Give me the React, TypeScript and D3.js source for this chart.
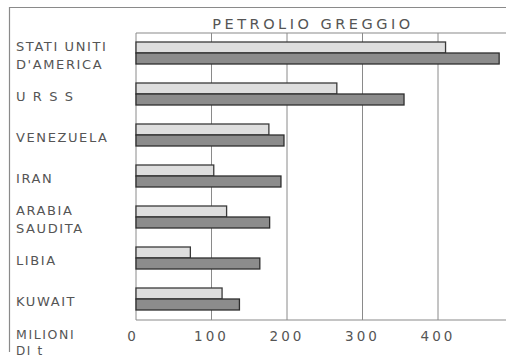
import * as d3 from 'd3';

const countries = [
  ['STATI UNITI', "D'AMERICA"],
  ['U R S S'],
  ['VENEZUELA'],
  ['IRAN'],
  ['ARABIA', 'SAUDITA'],
  ['LIBIA'],
  ['KUWAIT'],
];
const lightValues = [410, 266, 176, 103, 120, 72, 114];
const darkValues = [481, 355, 196, 192, 177, 164, 137];
const ticks = [0, 100, 200, 300, 400];

export default function App() {
  const width = 506;
  const height = 357;
  const plot = { left: 136, right: 506, top: 33, bottom: 320 };

  const x = d3.scaleLinear().domain([0, 100]).range([plot.left, plot.left + 75.5]);
  const y = d3
    .scaleBand<number>()
    .domain(d3.range(countries.length))
    .range([plot.top, plot.bottom]);
  const barH = 11;
  const font = "'DejaVu Sans', sans-serif";
  const textColor = '#555';
  const lineColor = '#8a8a8a';

  return (
    <svg
      width={width}
      height={height}
      style={{ position: 'absolute', left: 0, top: 0, background: '#fff' }}
      fontFamily={font}
    >
      {/* frame */}
      <line x1={9} x2={width} y1={7.5} y2={7.5} stroke={lineColor} strokeWidth={1.2} />
      <line x1={9.5} x2={9.5} y1={7} y2={352} stroke={lineColor} strokeWidth={1.2} />
      <line x1={plot.left} x2={width} y1={plot.top} y2={plot.top} stroke={lineColor} strokeWidth={1.2} />
      <line x1={plot.left} x2={width} y1={plot.bottom} y2={plot.bottom} stroke={lineColor} strokeWidth={1.2} />
      {ticks.map((t) => (
        <line
          key={t}
          x1={x(t)}
          x2={x(t)}
          y1={plot.top}
          y2={plot.bottom}
          stroke={lineColor}
          strokeWidth={1}
        />
      ))}
      <text
        x={313}
        y={29}
        textAnchor="middle"
        fontSize={14.5}
        letterSpacing={3.5}
        fill={textColor}
      >
        PETROLIO GREGGIO
      </text>

      {countries.map((lines, i) => {
        const y0 = (y(i) as number) + 9;
        const mid = y0 + barH;
        return (
          <g key={i}>
            <rect
              x={x(0)}
              y={y0}
              width={x(lightValues[i]) - x(0)}
              height={barH}
              fill="#dedede"
              stroke="#3a3a3a"
              strokeWidth={1.3}
            />
            <rect
              x={x(0)}
              y={y0 + barH}
              width={x(darkValues[i]) - x(0)}
              height={barH}
              fill="#8c8c8c"
              stroke="#2e2e2e"
              strokeWidth={1.3}
            />
            {lines.map((l, j) => (
              <text
                key={j}
                x={16}
                y={mid + 7 + (j - (lines.length - 1) / 2) * 18}
                fontSize={13}
                letterSpacing={1.6}
                fill={textColor}
              >
                {l}
              </text>
            ))}
          </g>
        );
      })}

      {ticks.map((t) => (
        <text
          key={t}
          x={x(t) - (t === 0 ? 3 : 0)}
          y={341}
          textAnchor="middle"
          fontSize={13.5}
          letterSpacing={3}
          fill={textColor}
        >
          {t}
        </text>
      ))}
      <text x={16} y={339} fontSize={12.5} letterSpacing={1.6} fill={textColor}>
        MILIONI
      </text>
      <text x={16} y={355} fontSize={12} letterSpacing={1.6} fill={textColor}>
        DI t
      </text>
    </svg>
  );
}
